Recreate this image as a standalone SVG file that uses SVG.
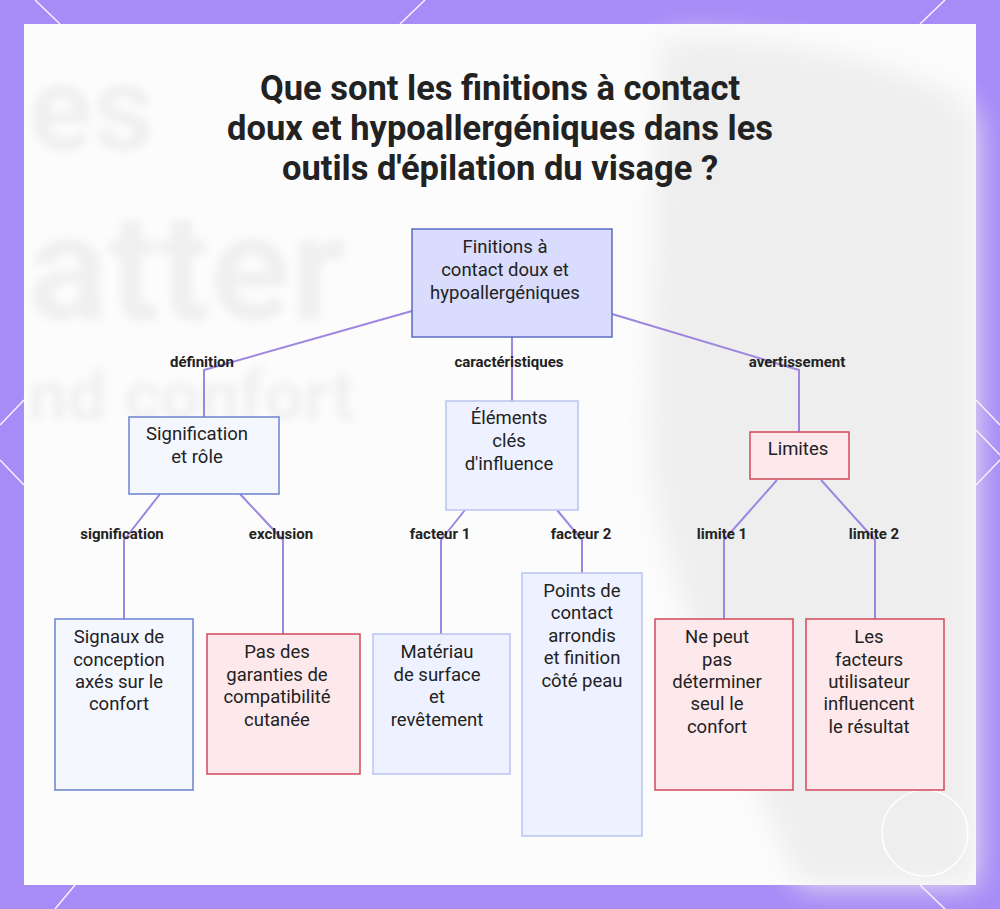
<svg xmlns="http://www.w3.org/2000/svg" width="1000" height="909" viewBox="0 0 1000 909">
<defs>
<style>
.t{font-family:Roboto,"Liberation Sans",sans-serif;font-size:18.5px;fill:#222;text-anchor:middle}
.l{font-family:Roboto,"Liberation Sans",sans-serif;font-size:15px;font-weight:bold;fill:#222;text-anchor:middle}
.h{font-family:Roboto,"Liberation Sans",sans-serif;font-size:34.5px;font-weight:bold;fill:#222;text-anchor:middle}
.w{font-family:Roboto,"Liberation Sans",sans-serif;font-weight:bold;fill:#f0f0f0}
.c{fill:none;stroke:#9d85e0;stroke-width:2}
.b1{fill:#d9dcfc;stroke:#5a6bc4;stroke-width:1.5}
.b2{fill:#f5f7ff;stroke:#6a82d0;stroke-width:1.5}
.b3{fill:#eef1ff;stroke:#b8c4f0;stroke-width:1.5}
.r{fill:#fde8ec;stroke:#d04a5a;stroke-width:1.5}
</style>
<filter id="bl"><feGaussianBlur stdDeviation="4"/></filter>
<filter id="bl2"><feGaussianBlur stdDeviation="15"/></filter>
</defs>
<rect width="1000" height="909" fill="#a78bf7"/>
<g stroke="#fff" stroke-width="1.5" opacity="0.9">
<line x1="35" y1="0" x2="60" y2="24"/><line x1="425" y1="0" x2="400" y2="24"/>
<line x1="0" y1="425" x2="24" y2="400"/><line x1="1000" y1="425" x2="976" y2="400"/>
<line x1="976" y1="430" x2="1000" y2="455"/><line x1="976" y1="485" x2="1000" y2="460"/>
<line x1="0" y1="460" x2="24" y2="485"/><line x1="55" y1="909" x2="75" y2="885"/>
<line x1="920" y1="885" x2="945" y2="909"/><line x1="945" y1="0" x2="920" y2="24"/>
</g>
<rect x="24" y="24" width="952" height="861" fill="#fcfcfc"/>
<path d="M660 40 C740 30 900 60 960 100 L976 120 L976 885 L800 885 C720 700 650 560 650 420 Z" fill="#eeeeee" filter="url(#bl2)"/>
<g filter="url(#bl)">
<text class="w" x="28" y="150" font-size="120">es</text>
<text class="w" x="28" y="320" font-size="150">atter</text>
<text class="w" x="28" y="420" font-size="70" font-weight="normal">nd confort</text>
</g>
<circle cx="925" cy="833" r="43" fill="none" stroke="#fff" stroke-width="1.5"/>
<text class="h" x="500" y="100">Que sont les finitions à contact</text>
<text class="h" x="500" y="140">doux et hypoallergéniques dans les</text>
<text class="h" x="500" y="180">outils d'épilation du visage ?</text>
<g id="connectors">
<polyline class="c" points="412,311 204,370 204,417"/>
<polyline class="c" points="512,337 512,401"/>
<polyline class="c" points="612,314 799,370 799,432"/>
<polyline class="c" points="160,494 124,540 124,619"/>
<polyline class="c" points="240,494 283,540 283,634"/>
<polyline class="c" points="465,510 441,540 441,634"/>
<polyline class="c" points="557,510 582,540 582,573"/>
<polyline class="c" points="777,480 724,540 724,619"/>
<polyline class="c" points="821,480 875,540 875,619"/>
<text class="l" x="202" y="367">définition</text>
<text class="l" x="509" y="367">caractéristiques</text>
<text class="l" x="797" y="367">avertissement</text>
<text class="l" x="122" y="539">signification</text>
<text class="l" x="281" y="539">exclusion</text>
<text class="l" x="440" y="539">facteur 1</text>
<text class="l" x="581" y="539">facteur 2</text>
<text class="l" x="722" y="539">limite 1</text>
<text class="l" x="874" y="539">limite 2</text>
</g>
<g id="root"><rect class="b1" x="412" y="229" width="200" height="108"/>
<text class="t" x="505" y="253">Finitions à</text><text class="t" x="505" y="276">contact doux et</text><text class="t" x="505" y="299">hypoallergéniques</text></g>
<g id="signif"><rect class="b2" x="129" y="417" width="150" height="77"/>
<text class="t" x="197" y="440">Signification</text><text class="t" x="197" y="463">et rôle</text></g>
<g id="elements"><rect class="b3" x="446" y="401" width="132" height="109"/>
<text class="t" x="509" y="424">Éléments</text><text class="t" x="509" y="447">clés</text><text class="t" x="509" y="470">d'influence</text></g>
<g id="limites"><rect class="r" x="750" y="432" width="99" height="47"/>
<text class="t" x="798" y="455">Limites</text></g>
<g id="signaux"><rect class="b2" x="55" y="619" width="138" height="171"/>
<text class="t" x="119" y="643">Signaux de</text><text class="t" x="119" y="666">conception</text><text class="t" x="119" y="688">axés sur le</text><text class="t" x="119" y="710">confort</text></g>
<g id="garanties"><rect class="r" x="207" y="634" width="153" height="140"/>
<text class="t" x="277" y="658">Pas des</text><text class="t" x="277" y="681">garanties de</text><text class="t" x="277" y="703">compatibilité</text><text class="t" x="277" y="726">cutanée</text></g>
<g id="materiau"><rect class="b3" x="373" y="634" width="137" height="140"/>
<text class="t" x="437" y="658">Matériau</text><text class="t" x="437" y="681">de surface</text><text class="t" x="437" y="703">et</text><text class="t" x="437" y="726">revêtement</text></g>
<g id="points"><rect class="b3" x="522" y="573" width="120" height="263"/>
<text class="t" x="582" y="597">Points de</text><text class="t" x="582" y="619">contact</text><text class="t" x="582" y="642">arrondis</text><text class="t" x="582" y="664">et finition</text><text class="t" x="582" y="687">côté peau</text></g>
<g id="nepeut"><rect class="r" x="655" y="619" width="138" height="171"/>
<text class="t" x="717" y="643">Ne peut</text><text class="t" x="717" y="666">pas</text><text class="t" x="717" y="688">déterminer</text><text class="t" x="717" y="710">seul le</text><text class="t" x="717" y="733">confort</text></g>
<g id="facteurs"><rect class="r" x="806" y="619" width="138" height="171"/>
<text class="t" x="869" y="643">Les</text><text class="t" x="869" y="666">facteurs</text><text class="t" x="869" y="688">utilisateur</text><text class="t" x="869" y="710">influencent</text><text class="t" x="869" y="733">le résultat</text></g>
</svg>
